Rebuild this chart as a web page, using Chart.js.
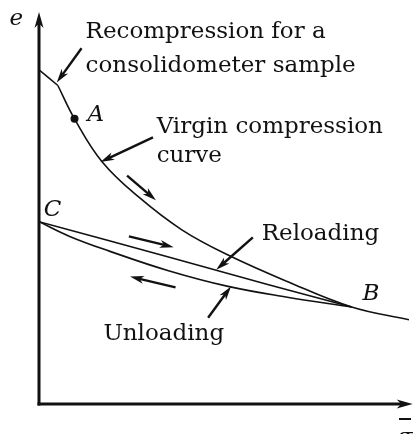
<!DOCTYPE html>
<html>
<head>
<meta charset="utf-8">
<script src="https://cdn.jsdelivr.net/npm/chart.js@4/dist/chart.umd.min.js"></script>
<style>
  html, body { margin: 0; padding: 0; background: #fff; overflow: hidden; }
  #wrap { width: 413px; height: 434px; }
</style>
</head>
<body>
<div id="wrap"><canvas id="chart"></canvas></div>
<script>
// ── Void ratio e against effective stress (arbitrary units) ──
const recompStress = [0, 0.51];
const recompE      = [3.41, 3.25];

const virginStress = [0.51, 0.96, 1.71, 2.70, 3.85, 5.11, 6.71, 8.45, 10.0];
const virginE      = [3.25, 2.91, 2.47, 2.11, 1.78, 1.52, 1.25, 0.99, 0.86];

const reloadStress = [0, 3.50, 6.18, 8.45];
const reloadE      = [1.86, 1.50, 1.22, 0.99];

const unloadStress = [8.45, 6.71, 5.11, 3.50, 1.90, 0.83, 0];
const unloadE      = [0.99, 1.09, 1.20, 1.36, 1.56, 1.71, 1.86];

const pointA = { x: 0.96, y: 2.91 };

// ── Leader / direction arrows (data units: from → tip) ──
const arrows = [
    { from: [1.15, 3.63], to: [0.48, 3.28] },   // recompression leader
    { from: [3.08, 2.72], to: [1.66, 2.47] },   // virgin curve leader
    { from: [2.38, 2.33], to: [3.16, 2.08] },   // loading direction
    { from: [2.43, 1.71], to: [3.64, 1.60] },   // reloading direction
    { from: [3.69, 1.19], to: [2.46, 1.30] },   // unloading direction
    { from: [5.78, 1.70], to: [4.79, 1.37] },   // reloading leader
    { from: [4.57, 0.88], to: [5.19, 1.20] }    // unloading leader
];

// ── Text labels (data units: left, baseline) ──
const labels = [
    { text: 'Recompression for a',   at: [1.26, 3.73] },
    { text: 'consolidometer sample', at: [1.26, 3.39] },
    { text: 'Virgin compression',    at: [3.18, 2.77] },
    { text: 'curve',                 at: [3.18, 2.47] },
    { text: 'Reloading',             at: [6.02, 1.67] },
    { text: 'Unloading',             at: [1.74, 0.65] },
    { text: 'A', at: [1.31, 2.89], italic: true },
    { text: 'B', at: [8.74, 1.06], italic: true },
    { text: 'C', at: [0.13, 1.92], italic: true },
    { text: 'e', at: [-0.80, 3.87], italic: true }
];

const FONT = "'DejaVu Serif', serif";
const INK  = '#111';

const pts = (xs, ys) => xs.map((x, i) => ({ x, y: ys[i] }));

function lineSet(data) {
    return {
        data,
        showLine: true,
        borderColor: INK,
        borderWidth: 1.6,
        pointRadius: 0,
        tension: 0.4,
        fill: false
    };
}

function drawArrow(ctx, x1, y1, x2, y2, len, half) {
    const a = Math.atan2(y2 - y1, x2 - x1);
    ctx.beginPath();
    ctx.moveTo(x1, y1);
    ctx.lineTo(x2 - Math.cos(a) * len * 0.7, y2 - Math.sin(a) * len * 0.7);
    ctx.stroke();
    ctx.save();
    ctx.translate(x2, y2);
    ctx.rotate(a);
    ctx.beginPath();
    ctx.moveTo(0, 0);
    ctx.lineTo(-len, -half);
    ctx.lineTo(-len * 0.72, 0);
    ctx.lineTo(-len, half);
    ctx.closePath();
    ctx.fill();
    ctx.restore();
}

// ── Axes with arrowheads, leaders and labels ──
const sketchPlugin = {
    id: 'sketch',
    afterDraw(chart) {
        const { ctx, scales: { x, y } } = chart;
        const px = v => x.getPixelForValue(v);
        const py = v => y.getPixelForValue(v);

        ctx.save();
        ctx.strokeStyle = INK;
        ctx.fillStyle = INK;

        // axes
        ctx.lineWidth = 3;
        drawArrow(ctx, px(0), py(0) + 1.5, px(0), py(4), 16, 4.5);
        drawArrow(ctx, px(0) - 1.5, py(0), px(10.1), py(0), 16, 4.5);

        // leader arrows
        ctx.lineWidth = 2.4;
        arrows.forEach(a => {
            drawArrow(ctx, px(a.from[0]), py(a.from[1]), px(a.to[0]), py(a.to[1]), 14, 4);
        });

        // text
        ctx.textBaseline = 'alphabetic';
        ctx.textAlign = 'left';
        labels.forEach(l => {
            ctx.font = (l.italic ? 'italic ' : '') + '23px ' + FONT;
            ctx.fillText(l.text, px(l.at[0]), py(l.at[1]));
        });

        // x-axis label: σ′ with an overbar
        ctx.font = '23px ' + FONT;
        ctx.fillText('σ′', 398, 444);
        ctx.lineWidth = 2;
        ctx.beginPath();
        ctx.moveTo(399, 419);
        ctx.lineTo(411, 419);
        ctx.stroke();

        ctx.restore();
    }
};

new Chart(document.getElementById('chart'), {
    type: 'scatter',
    data: {
        datasets: [
            lineSet(pts(recompStress, recompE)),
            lineSet(pts(virginStress, virginE)),
            lineSet(pts(reloadStress, reloadE)),
            lineSet(pts(unloadStress, unloadE)),
            {
                data: [pointA],
                pointRadius: 4,
                pointBackgroundColor: INK,
                pointBorderWidth: 0
            }
        ]
    },
    options: {
        responsive: true,
        maintainAspectRatio: false,
        animation: false,
        layout: { padding: { left: 39, right: 0, top: 12, bottom: 30 } },
        plugins: {
            legend: { display: false },
            tooltip: { enabled: false }
        },
        scales: {
            x: { type: 'linear', min: 0, max: 10, display: false },
            y: { type: 'linear', min: 0, max: 4, display: false }
        }
    },
    plugins: [sketchPlugin]
});
</script>
</body>
</html>
